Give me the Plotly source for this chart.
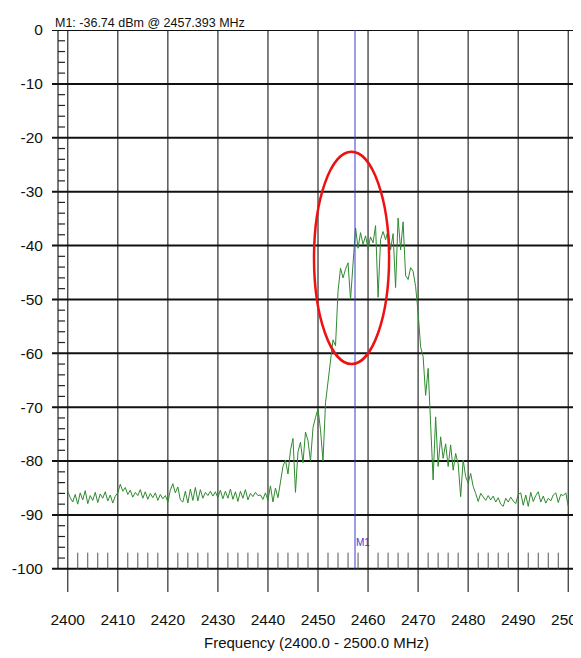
import numpy as np
import plotly.graph_objects as go

# ---------------- data ----------------
freq_start, freq_stop, freq_step = 2400.0, 2500.0, 0.5
power_dbm = [
    -85.6, -86.8, -87.6, -86.2, -88.0, -85.9, -87.2, -85.5, -87.9, -86.4,
    -87.3, -85.8, -87.7, -86.1, -86.9, -85.7, -87.4, -86.3, -87.8, -86.5,
    -85.9, -84.3, -85.6, -84.9, -86.2, -85.4, -86.7, -85.8, -86.4, -85.3,
    -86.9, -85.7, -87.1, -86.0, -86.8, -85.9, -87.3, -86.2, -87.0, -86.4,
    -87.6, -85.4, -84.2, -85.9, -84.8, -87.2, -87.6, -85.6, -87.8, -85.2,
    -87.3, -84.9, -87.4, -85.3, -86.9, -85.8, -86.4, -85.6, -86.5, -85.7,
    -86.8, -85.4, -87.0, -85.6, -86.9, -85.2, -87.1, -85.7, -87.5, -85.6,
    -86.9, -85.3, -87.2, -86.0, -86.6, -85.8, -86.4, -86.3, -87.1, -85.9,
    -87.3, -84.6, -87.6, -85.0, -86.8, -83.5, -81.0, -79.8, -82.4, -78.0,
    -75.8, -85.8, -78.3, -76.5, -80.3, -74.6, -76.2, -80.0, -73.8, -71.9,
    -70.3, -74.2, -80.0, -69.2, -65.3, -60.8, -57.5, -58.6, -48.5, -44.2,
    -46.0, -44.4, -43.2, -50.0, -42.5, -36.74, -40.5, -37.6, -39.8, -38.2,
    -40.6, -38.4, -39.5, -36.3, -49.6, -38.9, -37.4, -38.9, -37.2, -40.8,
    -37.8, -47.8, -34.9, -40.8, -35.6, -45.6, -46.3, -44.1, -44.8, -47.6,
    -52.5, -58.8, -60.6, -67.8, -62.8, -74.0, -83.5, -71.8, -81.0, -75.5,
    -79.5, -76.8, -81.0, -77.0, -81.7, -78.6, -80.5, -86.6, -79.8, -82.9,
    -84.1, -82.3, -84.7, -86.0, -87.5, -86.0, -86.6, -87.3, -86.4, -87.2,
    -86.5, -87.6, -86.8, -88.0, -88.4, -86.9, -87.6, -86.7, -87.4, -87.9,
    -86.2, -85.9, -88.2, -86.3, -88.4, -85.8, -87.5, -86.4, -85.7, -87.6,
    -86.5, -87.8, -86.9, -87.4, -86.3, -85.9, -87.7, -86.2, -86.4, -85.9,
    -88.4,
]
freq_mhz = np.arange(freq_start, freq_stop + freq_step / 2, freq_step)

x_ticks = [2400, 2410, 2420, 2430, 2440, 2450, 2460, 2470, 2480, 2490, 2500]
x_tick_labels = [str(v) for v in x_ticks]
y_ticks = [0, -10, -20, -30, -40, -50, -60, -70, -80, -90, -100]
y_tick_labels = [str(v) for v in y_ticks]

marker_name = "M1"
marker_freq = 2457.393
marker_level = -36.74
header_text = f"{marker_name}: {marker_level:.2f} dBm @ {marker_freq:.3f} MHz"
x_title = "Frequency (2400.0 - 2500.0 MHz)"

# highlight ellipse (data coords)
ellipse_x = [2449.2, 2464.2]
ellipse_y = [-62.0, -22.6]

# ---------------- figure ----------------
X_RANGE = [2396.86, 2501.94]
Y_RANGE = [-104.3, 0.0]
FONT = "Liberation Sans, Arial, sans-serif"

fig = go.Figure()
fig.add_trace(go.Scatter(
    x=freq_mhz, y=power_dbm, mode="lines",
    line=dict(color="#2f8a2f", width=1),
    hoverinfo="x+y", showlegend=False,
))

shapes = []
# vertical grid lines (frequency)
for xv in x_ticks:
    shapes.append(dict(type="line", xref="x", yref="paper", x0=xv, x1=xv, y0=0, y1=1,
                       line=dict(color="#4a4a4a", width=1.4), layer="below"))
# horizontal grid lines (level)
for yv in y_ticks:
    shapes.append(dict(type="line", xref="paper", yref="y", x0=0, x1=1, y0=yv, y1=yv,
                       line=dict(color="#111111", width=2), layer="below"))
# right border
shapes.append(dict(type="line", xref="paper", yref="y", x0=1, x1=1, y0=y_ticks[-1], y1=y_ticks[0],
                   line=dict(color="#111111", width=1.5), layer="below"))
# left minor-tick spine
left_spine = x_ticks[0] - 1.94
shapes.append(dict(type="line", xref="x", yref="y", x0=left_spine, x1=left_spine,
                   y0=y_ticks[-1], y1=y_ticks[0], line=dict(color="#222222", width=1.2), layer="below"))
for yv in range(0, -101, -2):
    if yv % 10 != 0:
        shapes.append(dict(type="line", xref="x", yref="y", x0=left_spine, x1=left_spine + 1.4,
                           y0=yv, y1=yv, line=dict(color="#222222", width=1.2), layer="below"))
# bottom minor ticks
for xv in range(2400, 2501, 2):
    if xv % 10 != 0:
        shapes.append(dict(type="line", xref="x", yref="y", x0=xv, x1=xv,
                           y0=y_ticks[-1], y1=y_ticks[-1] + 3.0,
                           line=dict(color="#555555", width=1), layer="below"))
# marker line
shapes.append(dict(type="line", xref="x", yref="y", x0=marker_freq, x1=marker_freq,
                   y0=y_ticks[-1], y1=y_ticks[0], line=dict(color="#3a3ad0", width=1)))
# red highlight ellipse
shapes.append(dict(type="circle", xref="x", yref="y",
                   x0=ellipse_x[0], x1=ellipse_x[1], y0=ellipse_y[0], y1=ellipse_y[1],
                   line=dict(color="#ee1111", width=2.5)))

annotations = [
    dict(text=header_text, xref="paper", yref="paper", x=0.002, y=1.0, xanchor="left",
         yanchor="bottom", showarrow=False, yshift=-2,
         font=dict(family=FONT, size=12.5, color="#111111")),
    dict(text=marker_name, xref="x", yref="y", x=marker_freq, y=-95.2, xanchor="left",
         yanchor="middle", showarrow=False, xshift=-1,
         font=dict(family=FONT, size=10, color="#3a3ad0")),
    dict(text=x_title, xref="paper", yref="paper", x=0.5038, y=-0.0712,
         xanchor="center", yanchor="top", showarrow=False,
         font=dict(family=FONT, size=15, color="#111111")),
]

fig.update_layout(
    width=573, height=650,
    margin=dict(l=44, r=3, t=22, b=66, autoexpand=False),
    paper_bgcolor="white", plot_bgcolor="white",
    shapes=shapes, annotations=annotations,
    xaxis=dict(range=X_RANGE, showgrid=False, zeroline=False, showline=False,
               tickmode="array", tickvals=x_ticks, ticktext=x_tick_labels,
               ticks="outside", ticklen=13, tickcolor="rgba(0,0,0,0)",
               ticklabeloverflow="allow",
               tickfont=dict(family=FONT, size=15.5, color="#111111")),
    yaxis=dict(range=Y_RANGE, showgrid=False, zeroline=False, showline=False,
               tickmode="array", tickvals=y_ticks, ticktext=y_tick_labels,
               ticks="outside", ticklen=5, tickcolor="rgba(0,0,0,0)",
               ticklabeloverflow="allow",
               tickfont=dict(family=FONT, size=15.5, color="#111111")),
)

fig.write_html("out.html")
